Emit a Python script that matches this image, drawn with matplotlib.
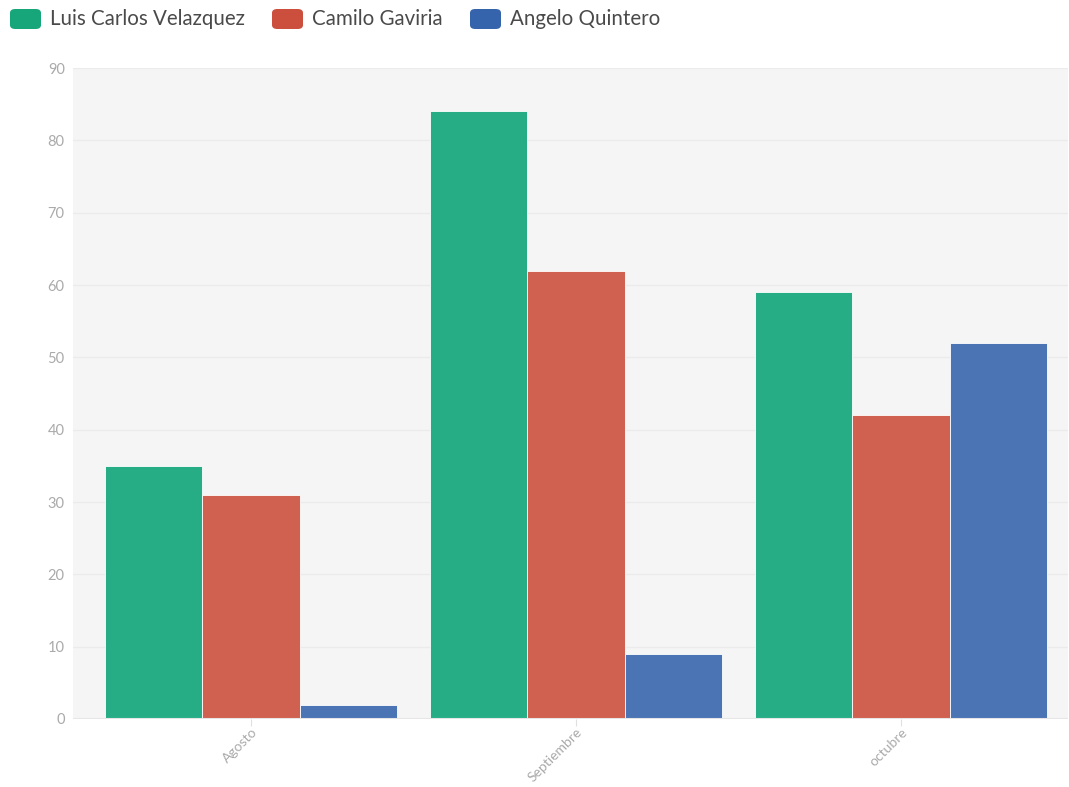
import numpy as np
from matplotlib import pyplot as plt
from matplotlib.patches import FancyBboxPatch

months = ['Agosto', 'Septiembre', 'octubre']
luis = [35, 84, 59]
camilo = [31, 62, 42]
angelo = [2, 9, 52]

names = ['Luis Carlos Velazquez', 'Camilo Gaviria', 'Angelo Quintero']
bar_colors = ['#27ad85', '#d0604f', '#4a74b4']
legend_colors = ['#17a57a', '#cc4e3c', '#3564ac']

plt.rcParams['font.family'] = ['Lato', 'DejaVu Sans']

fig = plt.figure(figsize=(10.69, 7.87), dpi=100)
ax = fig.add_axes([73 / 1069, 68 / 787, 995 / 1069, 651 / 787])
ax.set_facecolor('#f5f5f5')

x = np.arange(len(months))
w = 0.3
for i, vals in enumerate([luis, camilo, angelo]):
    ax.bar(x + (i - 1) * w, vals, w, color=bar_colors[i], edgecolor='white',
           linewidth=0.6, zorder=3)

ax.set_xlim(-0.548, 2.514)
ax.set_ylim(0, 90)
ax.set_yticks(range(0, 91, 10))
ax.grid(axis='y', color='#ebebeb', linewidth=1, zorder=0)
for s in ax.spines.values():
    s.set_visible(False)
ax.axhline(0, color='#e6e6e6', linewidth=1.5, zorder=4)
ax.tick_params(axis='y', length=0, labelsize=10.5, labelcolor='#aaaaaa', pad=6)
ax.tick_params(axis='x', length=5, color='#e0e0e0', labelsize=10,
               labelcolor='#aaaaaa', pad=0)
ax.set_xticks(x)
ax.set_xticklabels(months, rotation=45, ha='right', rotation_mode='anchor')

# legend along the top
xpos = [10, 272, 470]
for px, name, c in zip(xpos, names, legend_colors):
    fig.patches.append(FancyBboxPatch((px / 1069, (787 - 29) / 787), 31 / 1069, 20 / 787,
                                      boxstyle='round,pad=0,rounding_size=0.005',
                                      transform=fig.transFigure, facecolor=c,
                                      edgecolor='none'))
    fig.text((px + 40) / 1069, (787 - 19) / 787, name, fontsize=14.8,
             color='#4a4a4a', va='center', ha='left')

fig.savefig('out.png', dpi=100)
